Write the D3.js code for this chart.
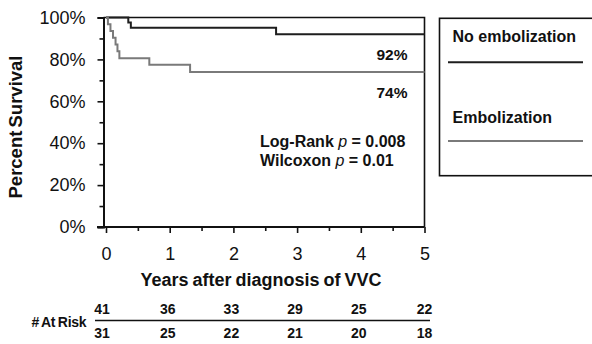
<!DOCTYPE html>
<html>
<head>
<meta charset="utf-8">
<script src="https://cdnjs.cloudflare.com/ajax/libs/d3/7.8.5/d3.min.js"></script>
<style>
  html, body { margin: 0; padding: 0; background: #fff; }
  svg { display: block; font-family: "Liberation Sans", Arial, sans-serif; }
</style>
</head>
<body>
<svg id="chart" width="592" height="344"></svg>
<script>
// Kaplan-Meier survival, with/without embolization
const yearTicks = [0, 1, 2, 3, 4, 5];
const pctTicks = [0, 20, 40, 60, 80, 100];

const noEmbTimes = [0, 0.35, 0.39, 2.67, 5];
const noEmbSurv  = [100, 97.6, 95.1, 92, 92];

const embTimes = [0, 0.03, 0.07, 0.11, 0.15, 0.18, 0.21, 0.68, 1.32, 5];
const embSurv  = [100, 96.8, 93.5, 90.3, 87.1, 83.9, 80.6, 77.4, 74, 74];

const riskNoEmb = [41, 36, 33, 29, 25, 22];
const riskEmb   = [31, 25, 22, 21, 20, 18];

const seriesNames = ["No embolization", "Embolization"];
const seriesColors = ["#1e1e1e", "#7a7a7a"];

const svg = d3.select("#chart");

const x = d3.scaleLinear().domain([0, 5]).range([106, 424.5]);
const y = d3.scaleLinear().domain([0, 100]).range([227, 17.5]);
const axisLeftX = 103.5;

// frame (top and right)
svg.append("path")
  .attr("d", `M${axisLeftX},${y(100)}H${x(5)}V${y(0)}`)
  .attr("fill", "none").attr("stroke", "#111").attr("stroke-width", 1.6);

// y axis
const yAxis = svg.append("g").attr("transform", `translate(${axisLeftX},0)`);
yAxis.call(d3.axisLeft(y).tickValues(pctTicks).tickFormat(d => d + "%").tickSize(6).tickPadding(12));
yAxis.append("g").call(d3.axisLeft(y).tickValues(d3.range(10, 100, 20)).tickFormat("").tickSize(4));
yAxis.selectAll("path.domain").attr("stroke", "#111").attr("stroke-width", 2);
yAxis.selectAll(".tick line").attr("stroke", "#111").attr("stroke-width", 1.6);
yAxis.selectAll(".tick text").attr("font-size", 18).attr("fill", "#111");
yAxis.selectAll("path.domain").filter((d, i, n) => n[i].parentNode !== yAxis.node()).remove();

// x axis
const xAxis = svg.append("g").attr("transform", `translate(0,${y(0)})`);
xAxis.call(d3.axisBottom(x).tickValues(yearTicks).tickFormat(d3.format("d")).tickSize(6).tickPadding(14).tickSizeOuter(0));
xAxis.append("g").call(d3.axisBottom(x).tickValues([0.5, 1.5, 2.5, 3.5, 4.5]).tickFormat("").tickSize(4));
xAxis.selectAll("path.domain").remove();
xAxis.append("line").attr("x1", 97).attr("x2", x(5)).attr("stroke", "#111").attr("stroke-width", 2);
xAxis.selectAll(".tick line").attr("stroke", "#111").attr("stroke-width", 1.6);
xAxis.selectAll(".tick text").attr("font-size", 18).attr("fill", "#111");

// axis titles
svg.append("text")
  .attr("transform", `translate(22,127) rotate(-90)`)
  .attr("text-anchor", "middle").attr("font-size", 18.5).attr("font-weight", "bold")
  .attr("word-spacing", -2).attr("fill", "#111")
  .text("Percent Survival");

svg.append("text")
  .attr("x", 261).attr("y", 286)
  .attr("text-anchor", "middle").attr("font-size", 18).attr("font-weight", "bold")
  .attr("word-spacing", -1).attr("fill", "#111")
  .text("Years after diagnosis of VVC");

// survival curves
const line = d3.line().curve(d3.curveStepAfter).x(d => x(d[0])).y(d => y(d[1]));
const curves = [
  d3.zip(noEmbTimes, noEmbSurv),
  d3.zip(embTimes, embSurv)
];
svg.selectAll("path.km").data(curves).join("path")
  .attr("class", "km")
  .attr("d", line)
  .attr("fill", "none")
  .attr("stroke", (d, i) => seriesColors[i])
  .attr("stroke-width", 2);

// end-point survival labels
const finals = [noEmbSurv[noEmbSurv.length - 1], embSurv[embSurv.length - 1]];
svg.selectAll("text.final").data(finals).join("text")
  .attr("class", "final")
  .attr("x", 407.5)
  .attr("y", d => y(d) + 26)
  .attr("text-anchor", "end").attr("font-size", 15.5).attr("font-weight", "bold").attr("fill", "#111")
  .text(d => d + "%");

// test statistics
const stats = [["Log-Rank ", "0.008"], ["Wilcoxon ", "0.01"]];
stats.forEach((s, i) => {
  const t = svg.append("text")
    .attr("x", 260).attr("y", 146.5 + i * 19)
    .attr("font-size", 16).attr("font-weight", "bold").attr("fill", "#111");
  t.append("tspan").text(s[0]);
  t.append("tspan").attr("font-style", "italic").attr("font-weight", "normal").text("p");
  t.append("tspan").text(" = " + s[1]);
});

// legend
svg.append("rect")
  .attr("x", 439.5).attr("y", 18.3).attr("width", 170).attr("height", 157.4)
  .attr("fill", "#fff").attr("stroke", "#111").attr("stroke-width", 1.6);
const legendTextY = [41.7, 123.3];
const legendLineY = [62.3, 141];
seriesNames.forEach((name, i) => {
  svg.append("text")
    .attr("x", 452.5).attr("y", legendTextY[i])
    .attr("font-size", 16).attr("font-weight", "bold").attr("fill", "#111")
    .text(name);
  svg.append("line")
    .attr("x1", 448).attr("x2", 583)
    .attr("y1", legendLineY[i]).attr("y2", legendLineY[i])
    .attr("stroke", seriesColors[i]).attr("stroke-width", 2);
});

// number at risk table
svg.append("text")
  .attr("x", 31.5).attr("y", 326.5)
  .attr("font-size", 14).attr("font-weight", "bold").attr("letter-spacing", -0.3)
  .attr("word-spacing", -1).attr("fill", "#111").text("# At Risk");
svg.append("line")
  .attr("x1", 95).attr("x2", 430).attr("y1", 320.5).attr("y2", 320.5)
  .attr("stroke", "#111").attr("stroke-width", 1.6);
[riskNoEmb, riskEmb].forEach((row, r) => {
  svg.selectAll(null).data(row).join("text")
    .attr("x", (d, i) => x(yearTicks[i]) - (i === 0 ? 4 : i === 5 ? 0 : 2))
    .attr("y", r === 0 ? 313.5 : 338)
    .attr("text-anchor", "middle").attr("font-size", 14).attr("font-weight", "bold")
    .attr("fill", "#111")
    .text(d => d);
});
</script>
</body>
</html>
